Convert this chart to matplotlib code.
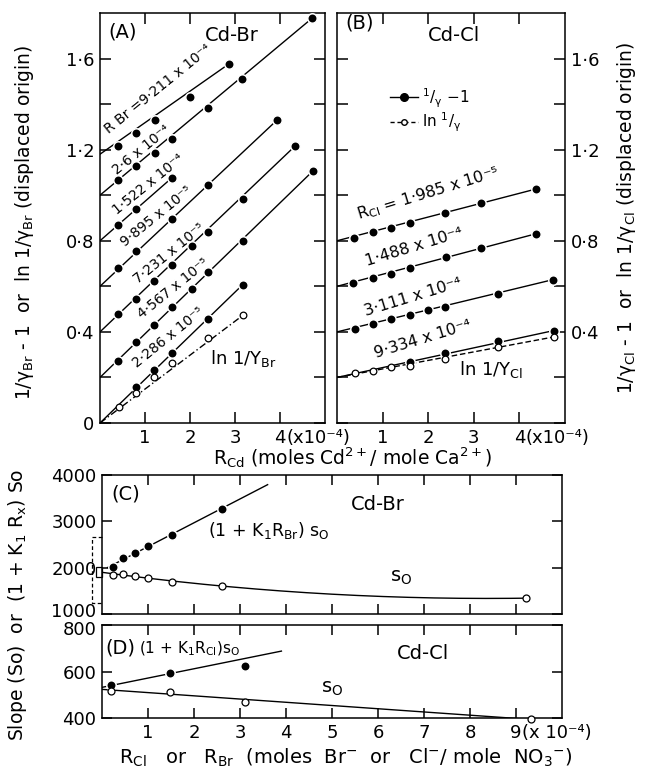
import numpy as np
import matplotlib.pyplot as plt
import matplotlib.transforms as mtransforms
from matplotlib.lines import Line2D
from matplotlib.patches import Rectangle
from matplotlib.ticker import FuncFormatter

plt.rcParams['font.family'] = ['DejaVu Sans']
plt.rcParams['mathtext.default'] = 'regular'

# ---------------- data ----------------
# (A) Cd-Br : 1/gamma_Br - 1 vs R_Cd (x1e-4), displaced origins
a_names = ['R Br =9·211 x 10⁻⁴', '2·6 x 10⁻⁴', '1·522 x 10⁻⁴', '9·895 x 10⁻⁵',
           '7·231 x 10⁻⁵', '4·567 x 10⁻⁵', '2·286 x 10⁻⁵']
a_origin = [1.18, 1.0, 0.8, 0.6, 0.4, 0.2, 0.0]
a_x = [[0.39, 0.80, 1.22, 2.01, 2.87],
       [0.39, 0.80, 1.22, 1.59, 2.39, 3.16, 4.72],
       [0.39, 0.80, 1.59],
       [0.39, 0.80, 1.59, 2.39, 3.93],
       [0.39, 0.80, 1.21, 1.59, 2.04, 2.39, 3.17, 4.33],
       [0.39, 0.80, 1.21, 1.59, 2.04, 2.39, 3.17, 4.74],
       [0.80, 1.21, 1.61, 2.39, 3.17]]
a_y = [[1.215, 1.273, 1.329, 1.430, 1.577],
       [1.065, 1.127, 1.185, 1.248, 1.383, 1.510, 1.778],
       [0.870, 0.939, 1.075],
       [0.680, 0.757, 0.895, 1.044, 1.329],
       [0.479, 0.545, 0.624, 0.695, 0.775, 0.837, 0.985, 1.215],
       [0.274, 0.355, 0.431, 0.508, 0.588, 0.661, 0.797, 1.108],
       [0.157, 0.233, 0.306, 0.455, 0.607]]
a_ln_x = [0.42, 0.80, 1.21, 1.61, 2.39, 3.17]
a_ln_y = [0.072, 0.133, 0.204, 0.262, 0.372, 0.472]

# (B) Cd-Cl
b_names = ['R$_{Cl}$ = 1·985 x 10⁻⁵', '1·488 x 10⁻⁴', '3·111 x 10⁻⁴', '9·334 x 10⁻⁴']
b_origin = [0.8, 0.6, 0.4, 0.2]
b_x = [[0.37, 0.78, 1.19, 1.59, 2.37, 3.16, 4.36],
       [0.36, 0.78, 1.19, 1.59, 2.39, 3.16, 4.37],
       [0.39, 0.78, 1.19, 1.59, 2.00, 2.37, 3.54, 4.73],
       [1.59, 2.37, 3.54, 4.76]]
b_y = [[0.812, 0.838, 0.856, 0.879, 0.922, 0.966, 1.027],
       [0.614, 0.636, 0.655, 0.680, 0.729, 0.768, 0.831],
       [0.412, 0.435, 0.456, 0.475, 0.494, 0.508, 0.567, 0.629],
       [0.266, 0.309, 0.362, 0.406]]
b_ln_x = [0.39, 0.78, 1.19, 1.59, 2.37, 3.54, 4.76]
b_ln_y = [0.218, 0.230, 0.245, 0.251, 0.281, 0.334, 0.378]

# (C) Cd-Br slopes vs R_Br (x1e-4)
c_rbr = [0.2286, 0.4567, 0.7231, 0.9895, 1.522, 2.6, 9.211]
c_k1s0 = [2022, 2203, 2320, 2463, 2710, 3275]
c_s0 = [1850, 1855, 1826, 1768, 1696, 1609, 1341]
c_bracket = [1245, 2660]
c_s0_extrap = [1790, 2005]

# (D) Cd-Cl slopes vs R_Cl (x1e-4)
d_rcl = [0.1985, 1.488, 3.111, 9.334]
d_k1s0 = [542, 593, 622]
d_s0 = [517, 514, 471, 395]
d_k1s0_line_x = [0, 3.9]
d_k1s0_line_y = [532, 688]

# ---------------- drawing ----------------
fig = plt.figure(figsize=(6.46, 7.76), dpi=100)
axA = fig.add_axes([0.1548, 0.4549, 0.3483, 0.5284])
axB = fig.add_axes([0.5217, 0.4549, 0.3529, 0.5284])
axC = fig.add_axes([0.1579, 0.2088, 0.7121, 0.1791])
axD = fig.add_axes([0.1579, 0.0747, 0.7121, 0.1198])

FS = 13
LW = 1.0


def dot_fmt(v, pos):
    if abs(v / 0.4 - round(v / 0.4)) > 1e-6:
        return ''
    return ('%g' % round(v, 1)).replace('.', '·')


def dot_fmt_b(v, pos):
    if v < 0.01:
        return ''
    return dot_fmt(v, pos)


def series(ax, x, y, y0, filled=True, ls='-'):
    ax.plot([0, x[-1]], [y0, y[-1]], color='k', lw=LW, ls=ls, zorder=2)
    if filled:
        ax.plot(x, y, ls='none', marker='o', ms=6.8, mfc='k', mec='white',
                mew=1.1, zorder=3)
    else:
        ax.plot(x, y, ls='none', marker='o', ms=4.8, mfc='white', mec='k',
                mew=0.9, zorder=4)


for ax in (axA, axB, axC, axD):
    for s in ax.spines.values():
        s.set_linewidth(1.1)
    ax.tick_params(direction='in', length=8, width=1.1, top=True, right=True,
                   labelsize=FS, pad=4)

for ax in (axA, axB):
    ax.set_xlim(0, 5)
    ax.set_ylim(0, 1.8)
    ax.set_xticks([1, 2, 3, 4])
    ax.set_xticklabels(['1', '2', '3', '4'])
    ax.set_yticks(np.arange(0, 1.61, 0.2))
    ax.annotate('(x10⁻⁴)', xy=(4, 0), xycoords=('data', 'axes fraction'),
                xytext=(4.5, -4), textcoords='offset points', ha='left', va='top',
                fontsize=FS, annotation_clip=False)
axA.yaxis.set_major_formatter(FuncFormatter(dot_fmt))
axB.yaxis.set_major_formatter(FuncFormatter(dot_fmt_b))
axB.tick_params(labelleft=False, labelright=True)

# panel A
for i in range(len(a_x)):
    series(axA, a_x[i], a_y[i], a_origin[i])
series(axA, a_ln_x, a_ln_y, 0.0, filled=False, ls=(0, (5, 2, 1, 2)))
a_lab_pos = [(1.30, 1.465), (0.93, 1.20), (1.07, 1.046), (1.26, 0.905),
             (1.53, 0.745), (1.63, 0.59), (1.52, 0.375)]
for name, (lx, ly) in zip(a_names, a_lab_pos):
    axA.text(lx, ly, name, rotation=39, ha='center', va='center', fontsize=10,
             rotation_mode='anchor')
axA.text(2.45, 0.284, 'ln 1/Y$_{Br}$', fontsize=13, va='center')
axA.text(0.18, 1.716, '(A)', fontsize=14, va='center')
axA.text(2.32, 1.70, 'Cd-Br', fontsize=14, va='center')

# panel B
for i in range(len(b_x)):
    series(axB, b_x[i], b_y[i], b_origin[i])
series(axB, b_ln_x, b_ln_y, 0.2, filled=False, ls=(0, (4, 2)))
b_lab_pos = [(2.0, 1.01), (1.70, 0.775), (1.67, 0.555), (1.87, 0.368)]
for name, (lx, ly) in zip(b_names, b_lab_pos):
    axB.text(lx, ly, name, rotation=17, ha='center', va='center', fontsize=11.5,
             rotation_mode='anchor')
axB.text(2.68, 0.233, 'ln 1/Y$_{Cl}$', fontsize=13, va='center')
axB.text(0.19, 1.755, '(B)', fontsize=14, va='center')
axB.text(2.0, 1.70, 'Cd-Cl', fontsize=14, va='center')
handles = [Line2D([], [], color='k', lw=LW, marker='o', ms=5.5),
           Line2D([], [], color='k', lw=LW, ls=(0, (3, 2)), marker='o', ms=4,
                  mfc='white')]
axB.legend(handles, ['${}^{1}/_{\\gamma}$ $-$1', 'ln ${}^{1}/_{\\gamma}$'],
           loc='upper left', bbox_to_anchor=(0.2, 0.84), frameon=False,
           fontsize=11, handlelength=1.8, handletextpad=0.3,
           labelspacing=0.05, borderpad=0)

# panel C
axC.set_xlim(0, 10)
axC.set_ylim(1000, 4000)
axC.set_xticks(range(1, 10))
axC.tick_params(labelbottom=False, length=7)
axC.set_yticks([1000, 2000, 3000, 4000])
cx = np.array(c_rbr[:len(c_k1s0)])
p1 = np.polyfit(cx, c_k1s0, 1)
xx = np.linspace(0.12, 3.6, 50)
axC.plot(xx, np.polyval(p1, xx), color='k', lw=LW, zorder=2)
p2 = np.polyfit(c_rbr, c_s0, 2)
xx = np.linspace(0, c_rbr[-1], 200)
axC.plot(xx, np.polyval(p2, xx), color='k', lw=LW, zorder=2)
axC.plot(cx, c_k1s0, ls='none', marker='o', ms=6.8, mfc='k', mec='white',
         mew=1.1, zorder=3)
axC.plot(c_rbr, c_s0, ls='none', marker='o', ms=5, mfc='white', mec='k',
         mew=0.9, zorder=3)
axC.plot([0, -0.21, -0.21, 0], [c_bracket[1], c_bracket[1], c_bracket[0], c_bracket[0]],
         color='k', lw=0.9, ls=(0, (3, 2)), clip_on=False)
axC.add_patch(Rectangle((-0.135, c_s0_extrap[0]), 0.13,
                        c_s0_extrap[1] - c_s0_extrap[0], fill=False,
                        lw=0.9, clip_on=False))
axC.text(0.2, 3590, '(C)', fontsize=14, va='center')
axC.text(5.4, 3370, 'Cd-Br', fontsize=14, va='center')
axC.text(2.3, 2800, '(1 + K$_1$R$_{Br}$) s$_O$', fontsize=12.5, va='center')
axC.text(6.26, 1790, 's$_O$', fontsize=14, va='center')

# panel D
axD.set_xlim(0, 10)
axD.set_ylim(400, 800)
axD.set_xticks(range(1, 10))
axD.tick_params(length=7)
axD.set_yticks([400, 600, 800])
axD.annotate('(x 10⁻⁴)', xy=(9, 0), xycoords=('data', 'axes fraction'),
             xytext=(4.5, -4), textcoords='offset points', ha='left', va='top',
             fontsize=FS, annotation_clip=False)
axD.plot(d_k1s0_line_x, d_k1s0_line_y, color='k', lw=LW, zorder=2)
p3 = np.polyfit(d_rcl, d_s0, 1)
xx = np.array([0, d_rcl[-1]])
axD.plot(xx, np.polyval(p3, xx), color='k', lw=LW, zorder=2)
axD.plot(d_rcl[:len(d_k1s0)], d_k1s0, ls='none', marker='o', ms=6.8, mfc='k',
         mec='white', mew=1.1, zorder=3)
axD.plot(d_rcl, d_s0, ls='none', marker='o', ms=5, mfc='white', mec='k',
         mew=0.9, zorder=3, clip_on=False)
axD.text(0.07, 702, '(D)', fontsize=14, va='center')
axD.text(0.8, 700, '(1 + K$_1$R$_{Cl}$)s$_O$', fontsize=11, va='center')
axD.text(6.4, 678, 'Cd-Cl', fontsize=14, va='center')
axD.text(4.77, 526, 's$_O$', fontsize=14, va='center')

# nudge the touching 1000 / 800 labels apart
up = mtransforms.ScaledTranslation(0, 3 / 72, fig.dpi_scale_trans)
down = mtransforms.ScaledTranslation(0, -2 / 72, fig.dpi_scale_trans)
lab = axC.get_yticklabels()[0]
lab.set_transform(lab.get_transform() + up)
lab = axD.get_yticklabels()[-1]
lab.set_transform(lab.get_transform() + down)

# axis titles
fig.text(25 / 646, 1 - 222 / 776,
         '1/$\\gamma_{Br}$ - 1  or  ln 1/$\\gamma_{Br}$ (displaced origin)',
         rotation=90, ha='center', va='center', fontsize=13.5)
fig.text(626 / 646, 1 - 218 / 776,
         '1/$\\gamma_{Cl}$ - 1  or  ln 1/$\\gamma_{Cl}$ (displaced origin)',
         rotation=90, ha='center', va='center', fontsize=13.5)
fig.text(353 / 646, 1 - 458 / 776,
         'R$_{Cd}$ (moles Cd$^{2+}$/ mole Ca$^{2+}$)',
         ha='center', va='center', fontsize=13.5)
fig.text(18 / 646, 1 - 605 / 776,
         'Slope (So)  or  (1 + K$_1$ R$_x$) So',
         rotation=90, ha='center', va='center', fontsize=13.5)
fig.text(346 / 646, 1 - 758 / 776,
         'R$_{Cl}$   or   R$_{Br}$  (moles  Br$^{-}$  or   Cl$^{-}$/ mole  NO$_3$$^{-}$)',
         ha='center', va='center', fontsize=14)

fig.savefig('out.png', dpi=100)
